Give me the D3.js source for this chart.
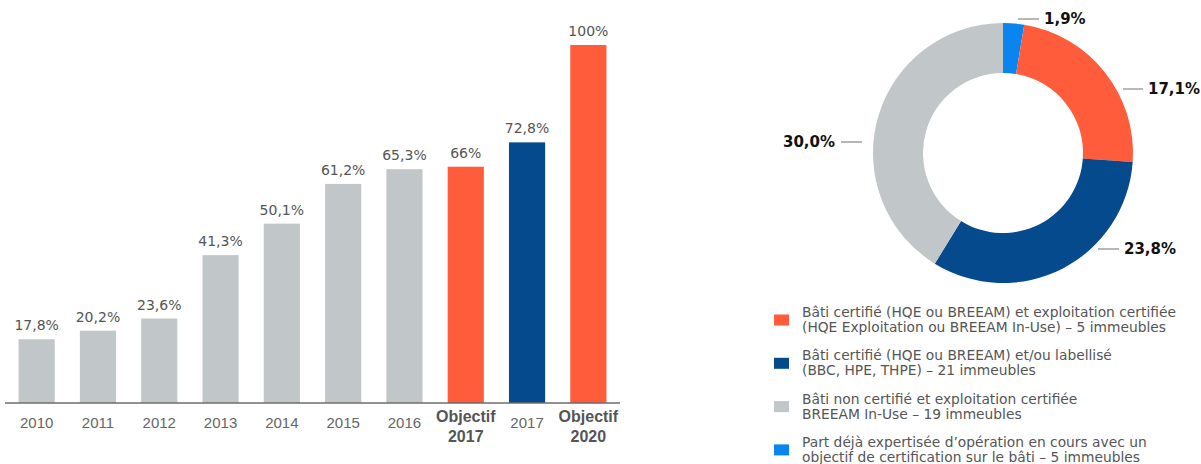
<!DOCTYPE html>
<html>
<head>
<meta charset="utf-8">
<script src="https://cdn.jsdelivr.net/npm/d3@7"></script>
<style>
  body { margin: 0; background: #fff; }
  svg { display: block; font-family: "DejaVu Sans", sans-serif; }
</style>
</head>
<body>
<script>
"use strict";

// bar chart data
var barLabels = ["2010", "2011", "2012", "2013", "2014", "2015", "2016", "Objectif\n2017", "2017", "Objectif\n2020"];
var barValues = [17.8, 20.2, 23.6, 41.3, 50.1, 61.2, 65.3, 66, 72.8, 100];
var barTexts = ["17,8%", "20,2%", "23,6%", "41,3%", "50,1%", "61,2%", "65,3%", "66%", "72,8%", "100%"];
var barKinds = ["past", "past", "past", "past", "past", "past", "past", "target", "actual", "target"];

// donut data (clockwise from top)
var sliceKeys = ["part", "both", "bati", "expl"];
var sliceValues = [1.9, 17.1, 23.8, 30.0];
var sliceTexts = ["1,9%", "17,1%", "23,8%", "30,0%"];

// legend
var legendKeys = ["both", "bati", "expl", "part"];
var legendTexts = [
  ["Bâti certifié (HQE ou BREEAM) et exploitation certifiée", "(HQE Exploitation ou BREEAM In-Use) – 5 immeubles"],
  ["Bâti certifié (HQE ou BREEAM) et/ou labellisé", "(BBC, HPE, THPE) – 21 immeubles"],
  ["Bâti non certifié et exploitation certifiée", "BREEAM In-Use – 19 immeubles"],
  ["Part déjà expertisée d’opération en cours avec un", "objectif de certification sur le bâti – 5 immeubles"]
];

var barColor = d3.scaleOrdinal()
  .domain(["past", "target", "actual"])
  .range(["#c1c6c8", "#ff5c3c", "#054a8c"]);

var sliceColor = d3.scaleOrdinal()
  .domain(["part", "both", "bati", "expl"])
  .range(["#0a84ee", "#ff5c3c", "#054a8c", "#c1c6c8"]);

var W = 1201, H = 464;

var svg = d3.select("body").append("svg")
  .attr("width", W)
  .attr("height", H);

// ---- bar chart ----

var baseY = 403;

var x = d3.scaleBand()
  .domain(barLabels)
  .range([6, 619])
  .paddingInner(0.41)
  .paddingOuter(0.205);

var y = d3.scaleLinear()
  .domain([0, 100])
  .range([baseY, 45]);

var bars = svg.append("g").attr("class", "bars");

bars.selectAll("rect")
  .data(barValues)
  .enter().append("rect")
  .attr("x", function(d, i) { return x(barLabels[i]); })
  .attr("y", function(d) { return y(d); })
  .attr("width", x.bandwidth())
  .attr("height", function(d) { return baseY - y(d); })
  .attr("fill", function(d, i) { return barColor(barKinds[i]); });

bars.selectAll("text.val")
  .data(barValues)
  .enter().append("text")
  .attr("class", "val")
  .attr("x", function(d, i) { return x(barLabels[i]) + x.bandwidth() / 2; })
  .attr("y", function(d) { return y(d) - 9; })
  .attr("text-anchor", "middle")
  .attr("font-size", 14)
  .attr("fill", "#555")
  .text(function(d, i) { return barTexts[i]; });

var xAxis = d3.axisBottom(x).tickSize(0).tickPadding(0).tickFormat("");

var axisG = svg.append("g")
  .attr("transform", "translate(0," + baseY + ")")
  .call(xAxis);

axisG.select(".domain")
  .attr("d", "M5,0H620")
  .attr("stroke", "#6d6d6d")
  .attr("stroke-width", 1.6);

axisG.selectAll(".tick").each(function(d) {
  var t = d3.select(this);
  var lines = d.split("\n");
  if (lines.length === 1) {
    t.append("text")
      .attr("y", 25)
      .attr("text-anchor", "middle")
      .attr("font-size", 15)
      .attr("fill", "#666")
      .text(d);
  } else {
    lines.forEach(function(l, k) {
      t.append("text")
        .attr("y", 18.5 + k * 20)
        .attr("text-anchor", "middle")
        .attr("font-size", 16)
        .attr("font-weight", "bold")
        .attr("fill", "#555")
        .text(l);
    });
  }
});

// ---- donut ----

var cx = 1003, cy = 153;
var outerR = 130, innerR = 80;

var pie = d3.pie().sort(null).value(function(d) { return d; });
var arc = d3.arc().innerRadius(innerR).outerRadius(outerR);
var arcs = pie(sliceValues);

var donut = svg.append("g").attr("transform", "translate(" + cx + "," + cy + ")");

donut.selectAll("path")
  .data(arcs)
  .enter().append("path")
  .attr("d", arc)
  .attr("fill", function(d, i) { return sliceColor(sliceKeys[i]); });

// label positions relative to centre: leader start x, end x, y, side
var labelPos = [
  {x1: 15, x2: 36, y: -134, side: "r"},
  {x1: 120, x2: 140, y: -64, side: "r"},
  {x1: 95, x2: 116, y: 96, side: "r"},
  {x1: -141, x2: -162, y: -11, side: "l"}
];

var lab = donut.selectAll("g.lab")
  .data(arcs)
  .enter().append("g")
  .attr("class", "lab");

lab.append("line")
  .attr("x1", function(d, i) { return labelPos[i].x1; })
  .attr("x2", function(d, i) { return labelPos[i].x2; })
  .attr("y1", function(d, i) { return labelPos[i].y; })
  .attr("y2", function(d, i) { return labelPos[i].y; })
  .attr("stroke", "#888")
  .attr("stroke-width", 1.2);

lab.append("text")
  .attr("x", function(d, i) { return labelPos[i].side === "r" ? labelPos[i].x2 + 5 : labelPos[i].x2 - 6; })
  .attr("y", function(d, i) { return labelPos[i].y; })
  .attr("dy", "0.36em")
  .attr("text-anchor", function(d, i) { return labelPos[i].side === "r" ? "start" : "end"; })
  .attr("font-size", 15)
  .attr("font-weight", "bold")
  .attr("fill", "#111")
  .text(function(d, i) { return sliceTexts[i]; });

// ---- legend ----

var legend = svg.append("g").attr("class", "legend");

var item = legend.selectAll("g")
  .data(legendKeys)
  .enter().append("g")
  .attr("transform", function(d, i) { return "translate(774," + (320 + i * 43.3) + ")"; });

item.append("rect")
  .attr("x", 0)
  .attr("y", -5.5)
  .attr("width", 15)
  .attr("height", 11)
  .attr("fill", function(d) { return sliceColor(d); });

item.each(function(d, i) {
  var g = d3.select(this);
  legendTexts[i].forEach(function(l, k) {
    g.append("text")
      .attr("x", 28)
      .attr("y", -3 + k * 15)
      .attr("font-size", 13.8)
      .attr("fill", "#555")
      .text(l);
  });
});
</script>
</body>
</html>
